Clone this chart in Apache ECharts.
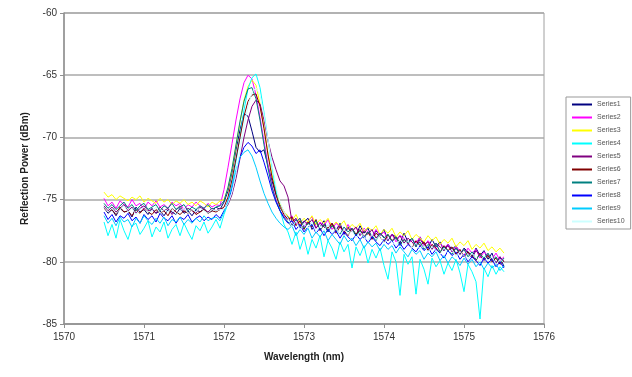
<!DOCTYPE html>
<html><head><meta charset="utf-8">
<script src="https://cdn.jsdelivr.net/npm/echarts@6/dist/echarts.min.js"></script>
<style>html,body{margin:0;padding:0;background:#fff}#c{width:632px;height:377px}</style>
</head><body><div id="c"></div>
<script>
var wavelength = [1570.5,1570.55,1570.6,1570.65,1570.7,1570.75,1570.8,1570.85,1570.9,1570.95,
1571,1571.05,1571.1,1571.15,1571.2,1571.25,1571.3,1571.35,1571.4,1571.45,
1571.5,1571.55,1571.6,1571.65,1571.7,1571.75,1571.8,1571.85,1571.9,1571.95,
1572,1572.05,1572.1,1572.15,1572.2,1572.25,1572.3,1572.35,1572.4,1572.45,
1572.5,1572.55,1572.6,1572.65,1572.7,1572.75,1572.8,1572.85,1572.9,1572.95,
1573,1573.05,1573.1,1573.15,1573.2,1573.25,1573.3,1573.35,1573.4,1573.45,
1573.5,1573.55,1573.6,1573.65,1573.7,1573.75,1573.8,1573.85,1573.9,1573.95,
1574,1574.05,1574.1,1574.15,1574.2,1574.25,1574.3,1574.35,1574.4,1574.45,
1574.5,1574.55,1574.6,1574.65,1574.7,1574.75,1574.8,1574.85,1574.9,1574.95,
1575,1575.05,1575.1,1575.15,1575.2,1575.25,1575.3,1575.35,1575.4,1575.45,1575.5];

var seriesNames = ['Series1','Series2','Series3','Series4','Series5','Series6','Series7','Series8','Series9','Series10'];
var seriesColors = ['#000080','#FF00FF','#FFFF00','#00FFFF','#800080','#800000','#008080','#0000FF','#00CCFF','#CCFFFF'];

var series1 = [-75.6,-76.1,-75.8,-76.3,-75.7,-76.0,-75.9,-76.4,-75.6,-76.0,-75.8,-76.2,-75.7,-76.1,-75.9,-76.3,-75.8,-76.0,-76.2,-75.7,-76.1,-75.9,-76.3,-75.8,-76.0,-75.7,-76.1,-75.9,-75.6,-75.8,
-75.2,-74.3,-72.8,-71.0,-69.4,-68.1,-68.3,
-69.5,-70.8,-71.2,-71.0,-72.3,-73.5,-74.6,-75.4,-76.0,-76.4,
-77.1,-76.6,-77.3,-76.8,-76.5,-77.4,-76.9,-77.2,-76.7,
-77.6,-77.0,-77.5,-76.9,-77.8,-77.2,-77.4,-77.9,-77.1,-77.7,
-77.3,-78.1,-77.5,-77.9,-77.4,-78.3,-77.8,-78.0,-78.5,-77.7,
-78.4,-78.1,-78.7,-78.0,-78.6,-78.9,-78.2,-78.8,-78.4,-79.1,
-78.6,-79.0,-78.7,-79.4,-78.9,-79.2,-79.6,-78.9,-79.5,-79.1,
-79.8,-79.3,-80.2,-79.6,-80.4];
var series2 = [-74.9,-75.5,-75.2,-75.7,-75.1,-75.4,-75.6,-75.0,-75.5,-75.3,
-75.8,-75.2,-75.5,-75.1,-75.6,-75.4,-75.7,-75.2,-75.5,-75.3,
-75.8,-75.4,-75.6,-75.2,-75.5,-75.7,-75.3,-75.6,-75.4,-75.5,
-74.2,-72.4,-70.5,-68.6,-66.9,-65.6,-65.0,
-65.3,-66.6,-68.4,-70.3,-72.2,-73.9,-75.0,-75.9,-76.3,-76.6,
-76.3,-77.0,-76.5,-77.2,-76.7,-76.4,-77.3,-76.8,-77.1,
-76.6,-77.4,-76.9,-77.2,-77.7,-77.0,-77.5,-77.2,-77.8,-77.3,
-77.6,-78.0,-77.4,-77.9,-77.6,-78.2,-77.8,-78.4,-77.9,-78.1,
-78.6,-78.2,-78.5,-78.0,-78.8,-78.3,-78.7,-79.0,-78.5,-78.9,
-78.6,-79.2,-78.8,-79.1,-79.5,-78.9,-79.3,-79.0,-79.7,-79.2,
-79.5,-79.8,-79.3,-79.9,-79.6];
var series3 = [-74.4,-74.8,-74.6,-75.0,-74.7,-74.9,-75.1,-74.8,-75.0,-74.7,
-75.2,-74.9,-75.1,-75.3,-74.9,-75.2,-75.0,-75.4,-75.1,-75.3,
-75.0,-75.4,-75.2,-75.5,-75.1,-75.3,-75.6,-75.2,-75.4,-75.1,
-75.0,-74.1,-72.6,-70.7,-68.8,-67.0,-65.9,
-65.4,-65.8,-67.3,-69.2,-71.3,-73.0,-74.4,-75.3,-76.0,-76.3,
-76.7,-76.2,-76.9,-76.5,-76.8,-76.3,-77.0,-76.6,-76.9,
-76.5,-77.2,-76.8,-77.1,-76.7,-77.4,-77.0,-77.3,-76.9,-77.6,
-77.2,-77.5,-77.1,-77.8,-77.4,-77.7,-77.3,-78.0,-77.6,-77.9,
-77.5,-78.2,-77.8,-78.1,-78.4,-77.9,-78.3,-78.0,-78.6,-78.2,
-78.5,-78.1,-78.8,-78.4,-78.7,-78.3,-79.0,-78.6,-78.9,-78.5,
-79.1,-78.8,-79.2,-78.9,-79.3];
var series4 = [-76.8,-77.9,-77.0,-78.1,-76.6,-77.5,-78.2,-77.1,-76.9,-77.8,
-77.3,-76.7,-78.0,-77.2,-77.6,-76.8,-78.1,-77.4,-77.0,-77.9,
-76.9,-77.6,-78.2,-77.1,-77.5,-76.8,-77.7,-77.2,-76.6,-77.3,
-76.2,-75.3,-73.8,-71.9,-69.9,-67.8,-66.1,
-65.2,-64.9,-66.0,-68.0,-70.2,-72.4,-74.3,-75.8,-77.0,-77.6,
-78.6,-77.6,-79.0,-78.0,-79.4,-78.2,-78.9,-77.9,-79.6,
-78.3,-78.9,-79.8,-78.4,-79.2,-78.6,-80.5,-78.8,-79.5,-78.7,
-80.1,-79.0,-79.7,-78.9,-80.3,-81.4,-79.2,-80.0,-82.7,-79.4,
-80.2,-79.6,-82.6,-79.8,-80.6,-81.8,-79.7,-80.4,-79.9,-81.0,
-80.1,-80.7,-79.8,-80.9,-82.4,-80.2,-80.8,-81.6,-84.6,-80.5,
-81.2,-80.3,-81.0,-80.4,-80.8];
var series5 = [-75.5,-75.9,-75.6,-76.0,-75.7,-75.4,-75.9,-75.6,-76.1,-75.7,
-75.5,-75.9,-75.8,-76.1,-75.6,-75.9,-75.7,-76.2,-75.8,-75.5,
-76.0,-75.7,-75.9,-76.1,-75.6,-75.8,-76.0,-75.7,-75.9,-75.7,
-75.8,-75.4,-74.6,-73.3,-71.7,-70.0,-68.6,
-67.5,-67.0,-67.3,-68.6,-70.3,-71.6,-72.6,-73.5,-73.9,-74.8,
-76.8,-76.5,-77.1,-76.7,-77.0,-76.6,-77.3,-76.9,-77.2,
-77.5,-76.9,-77.4,-77.1,-77.7,-77.3,-77.6,-77.2,-77.9,-77.5,
-77.8,-77.4,-78.1,-77.7,-78.0,-78.3,-77.8,-78.2,-77.9,-78.5,
-78.1,-78.4,-78.8,-78.2,-78.6,-78.4,-79.0,-78.5,-78.8,-79.1,
-78.7,-79.2,-78.9,-79.4,-79.0,-79.3,-79.7,-79.1,-79.5,-79.9,
-79.4,-79.8,-80.1,-79.6,-80.0];
var series6 = [-75.7,-76.0,-75.8,-76.2,-75.6,-76.0,-75.9,-76.3,-75.8,-76.1,
-75.7,-76.0,-76.2,-75.8,-76.1,-75.9,-76.3,-75.7,-76.0,-76.2,
-75.9,-76.1,-75.8,-76.2,-76.0,-75.8,-76.1,-75.9,-76.0,-75.8,
-75.6,-74.8,-73.4,-71.7,-70.0,-68.3,-67.1,
-66.6,-66.5,-67.5,-69.3,-71.4,-73.2,-74.6,-75.6,-76.2,-76.6,
-76.4,-77.1,-76.7,-77.4,-76.8,-77.2,-76.6,-77.5,-77.0,
-77.3,-76.9,-77.7,-77.2,-77.5,-77.9,-77.3,-77.8,-77.4,-78.0,
-77.6,-78.2,-77.7,-78.0,-78.4,-77.8,-78.3,-78.0,-78.6,-78.2,
-78.5,-78.9,-78.3,-78.7,-78.4,-79.1,-78.6,-78.9,-79.3,-78.7,
-79.1,-78.8,-79.4,-79.0,-79.6,-79.2,-79.5,-79.9,-79.3,-79.8,
-79.5,-80.0,-79.7,-80.2,-79.9];
var series7 = [-75.3,-75.7,-75.4,-75.8,-75.5,-75.2,-75.7,-75.4,-75.9,-75.5,
-75.3,-75.8,-75.6,-75.4,-75.9,-75.5,-75.7,-75.3,-75.8,-75.6,
-75.4,-75.9,-75.6,-75.8,-75.5,-75.7,-75.4,-75.8,-75.6,-75.5,
-75.1,-74.0,-72.5,-70.6,-68.7,-67.1,-66.1,
-66.0,-66.9,-68.6,-70.6,-72.5,-74.0,-75.1,-75.9,-76.4,-76.8,
-77.2,-76.8,-76.5,-77.3,-76.9,-77.1,-76.7,-77.4,-77.0,
-77.6,-77.1,-77.4,-77.8,-77.2,-77.6,-77.3,-77.9,-77.5,-78.1,
-77.6,-77.9,-78.3,-77.7,-78.1,-77.8,-78.4,-78.0,-78.7,-78.2,
-78.5,-78.1,-78.8,-78.4,-79.0,-78.6,-78.9,-78.5,-79.2,-78.8,
-79.1,-79.4,-78.9,-79.3,-79.0,-79.6,-79.2,-79.8,-79.4,-79.7,
-79.3,-79.9,-79.6,-80.1,-79.7];
var series8 = [-76.0,-76.6,-76.2,-76.8,-76.3,-76.5,-76.1,-76.7,-76.4,-76.9,
-76.2,-76.6,-76.3,-76.8,-76.1,-76.5,-76.7,-76.3,-76.9,-76.4,
-76.6,-76.2,-76.8,-76.5,-76.3,-76.7,-76.4,-76.6,-76.2,-76.5,
-75.9,-75.2,-74.1,-72.8,-71.6,-70.8,-70.4,
-70.7,-71.3,-71.0,-72.0,-73.1,-74.3,-75.2,-75.9,-76.5,-76.9,
-76.7,-77.4,-77.0,-77.6,-77.2,-77.0,-77.7,-77.3,-77.9,
-77.4,-77.8,-77.5,-78.1,-77.6,-78.0,-78.3,-77.8,-78.2,-77.9,
-78.5,-78.0,-78.4,-78.7,-78.2,-78.6,-78.3,-78.9,-78.5,-79.0,
-78.6,-78.9,-79.2,-78.7,-79.1,-78.8,-79.4,-79.0,-79.3,-79.7,
-79.1,-79.5,-79.2,-79.8,-79.4,-80.0,-79.6,-79.9,-80.3,-79.7,
-80.1,-79.8,-80.4,-80.0,-80.5];
var series9 = [-76.3,-76.9,-76.5,-77.1,-76.4,-76.8,-76.6,-77.2,-76.5,-76.9,
-76.3,-76.7,-77.0,-76.5,-76.9,-76.4,-77.1,-76.6,-76.8,-76.4,
-77.0,-76.6,-76.9,-76.5,-76.8,-76.3,-76.7,-76.5,-76.4,-76.7,
-76.0,-75.1,-73.9,-72.6,-71.6,-71.2,-71.0,
-71.5,-72.4,-73.5,-74.5,-75.3,-76.0,-76.5,-76.9,-77.2,-77.4,
-77.1,-77.9,-77.4,-77.8,-77.3,-78.1,-77.6,-78.0,-77.5,
-78.3,-77.8,-78.2,-78.6,-77.9,-78.4,-78.1,-78.7,-78.2,-78.9,
-78.4,-78.8,-78.5,-79.1,-78.6,-79.0,-78.7,-79.3,-78.8,-79.2,
-79.6,-79.0,-79.4,-79.1,-79.8,-79.3,-79.6,-79.2,-79.9,-79.5,
-80.1,-79.6,-79.9,-80.3,-79.7,-80.2,-79.8,-80.4,-80.0,-80.6,
-80.1,-80.5,-80.2,-80.7,-80.3];
var series10 = [-75.6,-76.0,-75.7,-76.1,-75.8,-75.5,-76.0,-75.7,-76.2,-75.8,
-75.6,-76.0,-75.9,-75.6,-76.1,-75.8,-76.0,-75.7,-76.2,-75.9,
-75.7,-76.1,-75.8,-76.0,-75.7,-75.9,-76.1,-75.8,-75.9,-75.8,
-75.8,-75.3,-74.4,-72.9,-71.0,-69.1,-67.5,
-66.4,-66.0,-66.6,-68.2,-70.2,-72.2,-73.9,-75.2,-76.0,-76.5,
-77.2,-76.7,-77.4,-76.9,-77.3,-76.8,-77.6,-77.1,-77.5,
-77.0,-77.7,-77.3,-77.9,-77.4,-77.8,-77.5,-78.1,-77.6,-78.0,
-78.3,-77.8,-78.2,-77.9,-78.5,-78.1,-78.4,-78.7,-78.2,-78.6,
-78.3,-78.9,-78.5,-79.0,-78.7,-79.2,-78.8,-79.1,-79.4,-78.9,
-79.3,-79.0,-79.6,-79.2,-79.5,-79.8,-79.3,-79.7,-80.0,-79.5,
-79.9,-79.6,-80.2,-79.8,-80.1];

var allSeries = [series1,series2,series3,series4,series5,series6,series7,series8,series9,series10];

var chart = echarts.init(document.getElementById('c'), null, {renderer:'canvas'});
var font = 'Liberation Sans, Arial, sans-serif';
var seriesOpts = allSeries.map(function(vals, k){
  return {
    name: seriesNames[k], type: 'line', showSymbol: false, symbol: 'none',
    animation: false,
    lineStyle: {color: seriesColors[k], width: 1},
    itemStyle: {color: seriesColors[k]},
    data: vals.map(function(v, i){ return [wavelength[i], v]; })
  };
});
chart.setOption({
  backgroundColor: '#fff',
  animation: false,
  grid: {left: 64, right: 88, top: 13, bottom: 53, show: true, borderColor: '#a0a0a0', borderWidth: 1},
  legend: {
    orient: 'vertical', left: 566, top: 97, width: 60,
    padding: [4, 6, 4, 6], itemGap: 6,
    borderColor: '#999', borderWidth: 1,
    itemWidth: 20, itemHeight: 2, icon: 'rect',
    textStyle: {fontSize: 7, color: '#555', fontFamily: font},
    data: seriesNames
  },
  xAxis: {
    type: 'value', min: 1570, max: 1576, interval: 1,
    name: 'Wavelength (nm)', nameLocation: 'middle', nameGap: 28,
    nameTextStyle: {fontSize: 10, fontWeight: 'bold', color: '#222', fontFamily: font},
    axisLine: {onZero: false, lineStyle: {color: '#909090', width: 1.5}},
    axisTick: {show: true, length: 4, lineStyle: {color: '#909090'}},
    axisLabel: {fontSize: 10, color: '#333', fontFamily: font, margin: 8,
      formatter: function(v){ return String(v); }},
    splitLine: {show: false}
  },
  yAxis: {
    type: 'value', min: -85, max: -60, interval: 5,
    name: 'Reflection Power (dBm)', nameLocation: 'middle', nameGap: 34, nameRotate: 90,
    nameTextStyle: {fontSize: 10, fontWeight: 'bold', color: '#222', fontFamily: font},
    axisLine: {show: true, onZero: false, lineStyle: {color: '#909090', width: 1.5}},
    axisTick: {show: true, length: 4, lineStyle: {color: '#909090'}},
    axisLabel: {fontSize: 10, color: '#333', fontFamily: font, margin: 7},
    splitLine: {show: true, lineStyle: {color: '#a8a8a8', width: 1.5}}
  },
  series: seriesOpts
});
</script></body></html>
